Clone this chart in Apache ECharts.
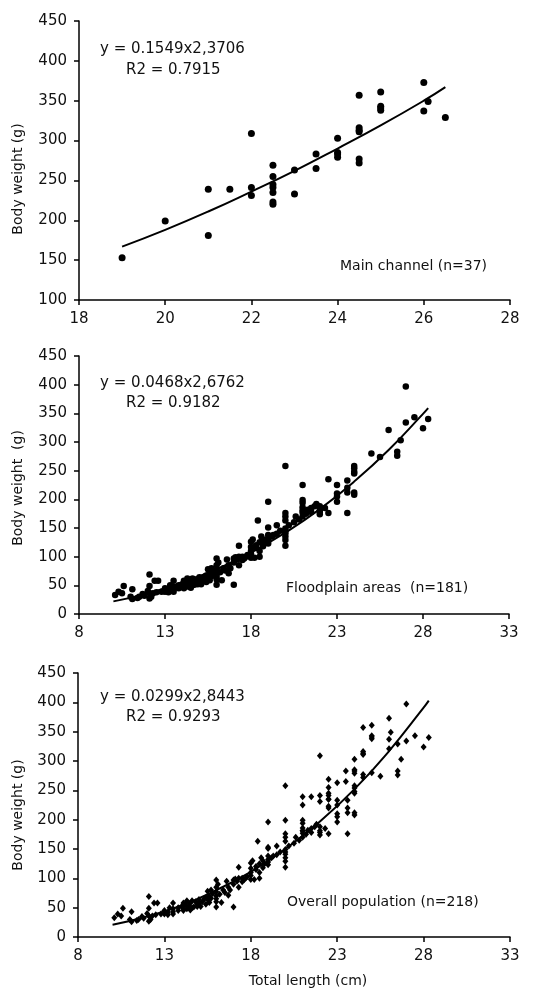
<!DOCTYPE html>
<html style="height: 100%">
<head>
    <meta charset="utf-8">
    <title>Length-weight relationship</title>
</head>
<body style="height: 100%; margin: 0; background: #fff">
<div id="container" style="width: 551px; height: 989px"></div>
<script type="text/javascript" src="https://cdn.jsdelivr.net/npm/echarts@6/dist/echarts.min.js"></script>
<script type="text/javascript">
    // [total length (cm), body weight (g)]
    var mainChannel = [
        [19, 153], [20, 199], [21, 239], [21, 181], [21.5, 239], [22, 309], [22, 241], [22, 231],
        [22.5, 269], [22.5, 255], [22.5, 245], [22.5, 241], [22.5, 235], [22.5, 223], [22.5, 220],
        [23, 263], [23, 233], [23.5, 283], [23.5, 265], [24, 303], [24, 285], [24, 283], [24, 279],
        [24.5, 357], [24.5, 316], [24.5, 313], [24.5, 311], [24.5, 277], [24.5, 272],
        [25, 361], [25, 343], [25, 341], [25, 338], [26, 373], [26, 337], [26.1, 349], [26.5, 329]
    ];

    var floodplain = [
        [10.1, 33], [10.3, 39], [10.5, 36], [10.6, 49], [11.0, 30], [11.1, 43], [11.1, 26], [11.4, 28],
        [11.5, 30], [11.7, 35], [11.8, 32], [12.0, 40], [12.1, 69], [12.1, 49], [12.1, 36], [12.1, 27],
        [12.2, 30], [12.3, 36], [12.4, 58], [12.5, 38], [12.6, 58], [12.8, 39], [13.0, 39], [13.0, 45],
        [13.2, 42], [13.2, 38], [13.3, 50], [13.5, 58], [13.5, 48], [13.5, 39], [13.5, 43], [13.8, 45],
        [13.8, 50], [14.0, 52], [14.1, 58], [14.1, 48], [14.1, 45], [14.2, 55], [14.3, 62], [14.3, 48],
        [14.4, 53], [14.5, 46], [14.5, 58], [14.6, 62], [14.6, 50], [14.7, 51], [14.8, 60], [14.9, 56],
        [14.9, 52], [15.0, 64], [15.0, 57], [15.1, 52], [15.2, 60], [15.3, 65], [15.4, 56], [15.4, 67],
        [15.5, 78], [15.5, 64], [15.6, 59], [15.6, 70], [15.7, 66], [15.7, 80], [15.8, 74], [16.0, 97],
        [16.0, 85], [16.0, 77], [16.0, 65], [16.0, 51], [16.0, 60], [16.0, 70], [16.1, 90], [16.2, 73],
        [16.3, 59], [16.4, 80], [16.5, 76], [16.6, 95], [16.7, 85], [16.7, 71], [16.8, 80], [17.0, 51],
        [17.0, 97], [17.0, 90], [17.1, 99], [17.2, 95], [17.3, 119], [17.3, 100], [17.3, 85], [17.5, 94],
        [17.5, 100], [17.6, 97], [17.7, 100], [17.8, 103], [18.0, 126], [18.0, 117], [18.0, 98],
        [18.0, 105], [18.0, 110], [18.1, 130], [18.2, 98], [18.3, 115], [18.3, 120], [18.4, 163],
        [18.5, 100], [18.5, 110], [18.5, 125], [18.6, 135], [18.7, 130], [18.7, 118], [18.8, 125],
        [19.0, 196], [19.0, 151], [19.0, 138], [19.0, 123], [19.0, 128], [19.0, 132], [19.2, 135],
        [19.3, 138], [19.5, 155], [19.5, 140], [19.7, 145], [20.0, 258], [20.0, 176], [20.0, 170],
        [20.0, 149], [20.0, 141], [20.0, 129], [20.0, 119], [20.0, 135], [20.0, 145], [20.0, 163],
        [20.2, 155], [20.5, 160], [20.6, 170], [20.8, 165], [21.0, 225], [21.0, 199], [21.0, 194],
        [21.0, 181], [21.0, 177], [21.0, 170], [21.0, 186], [21.2, 175], [21.3, 182], [21.5, 178],
        [21.5, 185], [21.7, 188], [21.8, 192], [22.0, 181], [22.0, 174], [22.0, 188], [22.0, 178],
        [22.3, 185], [22.5, 235], [22.5, 176], [23.0, 225], [23.0, 210], [23.0, 196], [23.0, 205],
        [23.6, 233], [23.6, 212], [23.6, 176], [23.6, 220], [24.0, 254], [24.0, 248], [24.0, 212],
        [24.0, 208], [24.0, 245], [24.0, 258], [25.0, 280], [25.5, 274], [26.0, 321], [26.5, 283],
        [26.5, 276], [26.7, 303], [27.0, 397], [27.0, 334], [27.5, 343], [28.0, 324], [28.3, 340]
    ];

    var overall = mainChannel.concat(floodplain);

    // fitted power curves
    var mainFit = [[19, 167], [20, 188], [21, 211], [22, 236], [23, 262], [24, 290], [25, 319], [26, 350], [26.5, 367]];
    var floodFit = [[10, 22], [12, 36], [14, 55], [16, 78], [18, 107], [20, 142], [22, 183], [24, 231], [26, 286], [28, 349], [28.3, 359]];
    var overallFit = [[10, 21], [12, 35], [14, 54], [16, 80], [18, 111], [20, 150], [22, 197], [24, 252], [26, 317], [28, 391], [28.3, 403]];

    var xTicksWide = [8, 13, 18, 23, 28, 33];
    var equations = [
        ['y = 0.1549x2,3706', 'R2 = 0.7915'],
        ['y = 0.0468x2,6762', 'R2 = 0.9182'],
        ['y = 0.0299x2,8443', 'R2 = 0.9293']
    ];
    var panelNames = ['Main channel (n=37)', 'Floodplain areas  (n=181)', 'Overall population (n=218)'];

    var font = 'DejaVu Sans';
    var ink = '#111';
    var myChart = echarts.init(document.getElementById('container'));

    var axisLine = {lineStyle: {color: '#000', width: 1.5}};
    var axisTick = {inside: false, length: 5, lineStyle: {color: '#000', width: 1.5}};
    var label = {color: ink, fontSize: 15, fontFamily: font};
    var dot = {color: '#000', opacity: 1};
    var fitLine = {color: '#000', width: 2};

    function txt(x, y, s, size, rot) {
        return {
            type: 'text', x: x, y: y, rotation: rot || 0,
            style: {text: s, fill: ink, font: size + 'px "' + font + '"',
                textAlign: rot ? 'center' : 'left', textVerticalAlign: 'middle'}
        };
    }

    var option = {
        animation: false,
        grid: [
            {left: 79, top: 21, width: 431, height: 279},
            {left: 79, top: 356, width: 430, height: 258},
            {left: 78, top: 673, width: 432, height: 264}
        ],
        xAxis: [
            {gridIndex: 0, type: 'value', min: 18, max: 28, interval: 2, splitLine: {show: false},
                axisLine: axisLine, axisTick: axisTick, axisLabel: Object.assign({margin: 12}, label)},
            {gridIndex: 1, type: 'value', min: 8, max: 33, splitLine: {show: false},
                axisLine: axisLine, axisTick: Object.assign({customValues: xTicksWide}, axisTick),
                axisLabel: Object.assign({margin: 12, customValues: xTicksWide}, label)},
            {gridIndex: 2, type: 'value', min: 8, max: 33, splitLine: {show: false},
                axisLine: axisLine, axisTick: Object.assign({customValues: xTicksWide}, axisTick),
                axisLabel: Object.assign({margin: 12, customValues: xTicksWide}, label)}
        ],
        yAxis: [
            {gridIndex: 0, type: 'value', min: 100, max: 450, interval: 50, splitLine: {show: false},
                axisLine: axisLine, axisTick: axisTick, axisLabel: Object.assign({margin: 12}, label)},
            {gridIndex: 1, type: 'value', min: 0, max: 450, interval: 50, splitLine: {show: false},
                axisLine: axisLine, axisTick: axisTick, axisLabel: Object.assign({margin: 12}, label)},
            {gridIndex: 2, type: 'value', min: 0, max: 450, interval: 50, splitLine: {show: false},
                axisLine: axisLine, axisTick: axisTick, axisLabel: Object.assign({margin: 12}, label)}
        ],
        series: [
            {type: 'scatter', xAxisIndex: 0, yAxisIndex: 0, symbol: 'circle', symbolSize: 7,
                itemStyle: dot, data: mainChannel},
            {type: 'line', xAxisIndex: 0, yAxisIndex: 0, smooth: true, showSymbol: false,
                lineStyle: fitLine, data: mainFit},
            {type: 'scatter', xAxisIndex: 1, yAxisIndex: 1, symbol: 'circle', symbolSize: 6.5,
                itemStyle: dot, data: floodplain},
            {type: 'line', xAxisIndex: 1, yAxisIndex: 1, smooth: true, showSymbol: false,
                lineStyle: fitLine, data: floodFit},
            {type: 'scatter', xAxisIndex: 2, yAxisIndex: 2, symbol: 'diamond', symbolSize: [6, 7],
                itemStyle: dot, data: overall},
            {type: 'line', xAxisIndex: 2, yAxisIndex: 2, smooth: true, showSymbol: false,
                lineStyle: fitLine, data: overallFit}
        ],
        graphic: [
            txt(100, 49, equations[0][0], 15), txt(126, 70, equations[0][1], 15),
            txt(100, 383, equations[1][0], 15), txt(126, 403, equations[1][1], 15),
            txt(100, 697, equations[2][0], 15), txt(126, 717, equations[2][1], 15),
            txt(340, 266, panelNames[0], 14), txt(286, 588, panelNames[1], 14), txt(287, 902, panelNames[2], 14),
            txt(18, 179, 'Body weight (g)', 14, Math.PI / 2),
            txt(18, 488, 'Body weight  (g)', 14, Math.PI / 2),
            txt(18, 815, 'Body weight (g)', 14, Math.PI / 2),
            {type: 'text', x: 308, y: 981, style: {text: 'Total length (cm)', fill: ink,
                font: '14px "' + font + '"', textAlign: 'center', textVerticalAlign: 'middle'}}
        ]
    };
    myChart.setOption(option);
</script>
</body>
</html>
